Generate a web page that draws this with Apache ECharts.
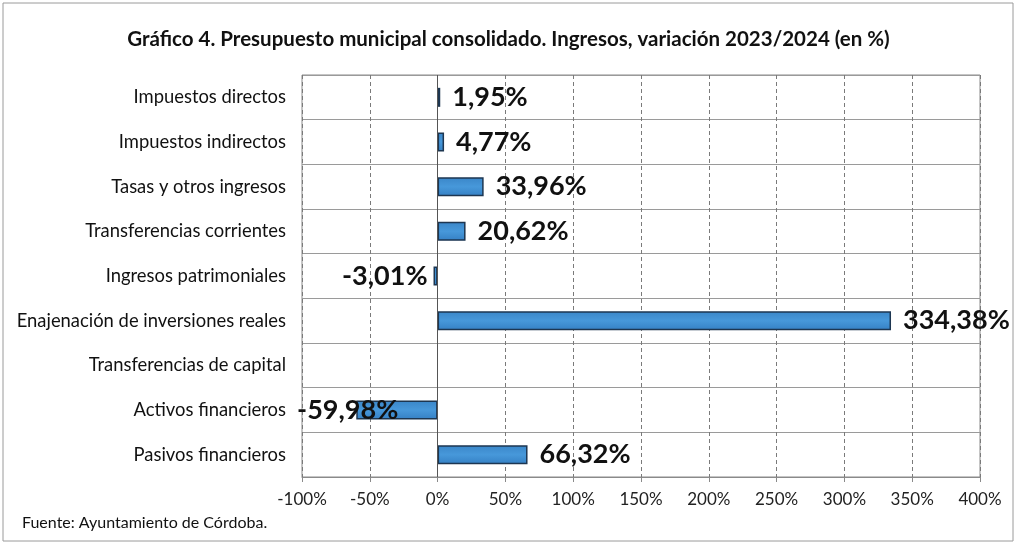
<!DOCTYPE html>
<html>
<head>
<meta charset="utf-8">
<script src="https://cdn.jsdelivr.net/npm/echarts@6/dist/echarts.min.js"></script>
<style>
  html, body { margin: 0; padding: 0; background: #fff; }
  #chart { width: 1017px; height: 546px; }
</style>
</head>
<body>
<div id="chart"></div>
<script>
const categories = [
  'Impuestos directos',
  'Impuestos indirectos',
  'Tasas y otros ingresos',
  'Transferencias corrientes',
  'Ingresos patrimoniales',
  'Enajenación de inversiones reales',
  'Transferencias de capital',
  'Activos financieros',
  'Pasivos financieros'
];
const variation = [1.95, 4.77, 33.96, 20.62, -3.01, 334.38, null, -59.98, 66.32];
const xTicks = [-100, -50, 0, 50, 100, 150, 200, 250, 300, 350, 400];

const fontFamily = 'Lato, "Open Sans", sans-serif';
const fmt = v => v.toFixed(2).replace('.', ',') + '%';

const barData = variation.map(v => {
  if (v === null) return '-';
  if (v >= 0) return { value: v };
  const item = { value: v, label: { position: 'left', distance: 6 } };
  if (v < -50) item.label.offset = [48, 0];
  return item;
});

const chart = echarts.init(document.getElementById('chart'));
chart.setOption({
  animation: false,
  title: {
    text: 'Gráfico 4. Presupuesto municipal consolidado. Ingresos, variación 2023/2024 (en %)',
    left: 'center',
    top: 24,
    textStyle: { fontFamily, fontSize: 20.5, fontWeight: 'bold', color: '#111' }
  },
  graphic: [
    {
      type: 'rect',
      shape: { x: 3, y: 3, width: 1010, height: 538 },
      style: { fill: 'none', stroke: '#9a9a9a', lineWidth: 1 },
      silent: true
    },
    {
      type: 'text',
      left: 22,
      top: 515,
      style: { text: 'Fuente: Ayuntamiento de Córdoba.', font: '16px ' + fontFamily, fill: '#111' }
    }
  ],
  grid: { left: 302, right: 37, top: 75, bottom: 69, show: true, borderColor: '#8a8a8a', borderWidth: 1 },
  xAxis: {
    type: 'value',
    min: xTicks[0],
    max: xTicks[xTicks.length - 1],
    interval: 50,
    axisLine: { show: true, lineStyle: { color: '#8a8a8a' } },
    axisTick: { show: true, length: 5, lineStyle: { color: '#8a8a8a' } },
    axisLabel: { color: '#222', fontFamily, fontSize: 17, margin: 14, formatter: v => v + '%' },
    splitLine: { show: true, lineStyle: { color: '#7a7a7a', type: [4, 3] } }
  },
  yAxis: {
    type: 'category',
    data: categories,
    inverse: true,
    axisLine: { show: false },
    axisTick: { show: false },
    axisLabel: { color: '#111', fontFamily, fontSize: 18.4, margin: 16 },
    splitLine: { show: true, lineStyle: { color: '#9a9a9a', width: 1 } }
  },
  series: [
    {
      type: 'bar',
      data: barData,
      barWidth: 19,
      itemStyle: {
        color: new echarts.graphic.LinearGradient(0, 0, 0, 1, [
          { offset: 0, color: '#3a86c8' },
          { offset: 0.5, color: '#4798da' },
          { offset: 1, color: '#3580c4' }
        ]),
        borderColor: '#1d3651',
        borderWidth: 1.5
      },
      label: {
        show: true,
        position: 'right',
        distance: 12,
        fontFamily,
        fontSize: 27,
        fontWeight: 'bold',
        color: '#111',
        formatter: p => fmt(p.value)
      },
      markLine: {
        silent: true,
        symbol: 'none',
        label: { show: false },
        lineStyle: { color: '#555', type: 'solid', width: 1 },
        data: [{ xAxis: 0 }]
      }
    }
  ]
});
</script>
</body>
</html>
